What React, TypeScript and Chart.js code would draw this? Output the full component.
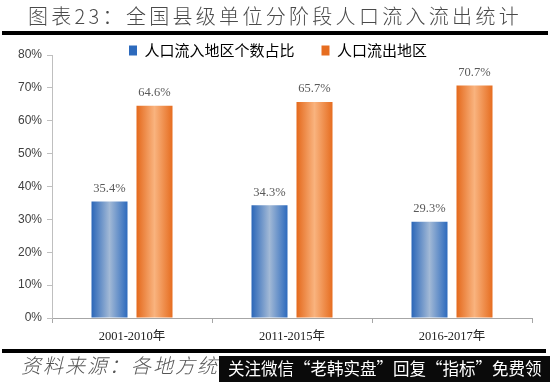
import React, { useEffect, useRef } from 'react';
import { Chart, registerables } from 'chart.js';

Chart.register(...registerables);

const categories = ['2001-2010年', '2011-2015年', '2016-2017年'];
const inflowShare = [35.4, 34.3, 29.3];
const outflowShare = [64.6, 65.7, 70.7];
const seriesNames = ['人口流入地区个数占比', '人口流出地区'];
const yMin = 0;
const yMax = 80;
const yStep = 10;
const titleText = '图表23：全国县级单位分阶段人口流入流出统计';
const sourceText = '资料来源：各地方统';
const bannerText = '关注微信“老韩实盘”回复“指标”免费领';

const CAT_PCT = 0.5625;
const BAR_PCT = 0.8;

const blueStops: [number, string][] = [
  [0, '#2a66b8'],
  [0.5, '#a2b9d6'],
  [1, '#2d6abd'],
];
const orangeStops: [number, string][] = [
  [0, '#e4691c'],
  [0.5, '#f9b37e'],
  [1, '#e66d20'],
];

function barFill(stops: [number, string][], solid: string) {
  return (ctx: any) => {
    const chart = ctx.chart;
    const xs = chart.scales && chart.scales.x;
    if (ctx.type !== 'data' || !xs || !isFinite(xs.width) || xs.width <= 0) return solid;
    const n = chart.data.labels.length;
    const catW = xs.width / n;
    const slot = (catW * CAT_PCT) / 2;
    const center = xs.getPixelForValue(ctx.dataIndex) + (ctx.datasetIndex - 0.5) * slot;
    const half = (slot * BAR_PCT) / 2;
    if (!isFinite(center)) return solid;
    const g = chart.ctx.createLinearGradient(center - half, 0, center + half, 0);
    stops.forEach(([o, c]) => g.addColorStop(o, c));
    return g;
  };
}

const valueLabels = {
  id: 'valueLabels',
  afterDatasetsDraw(chart: any) {
    const c = chart.ctx;
    c.save();
    c.font = '12.5px "Liberation Serif", serif';
    c.fillStyle = '#595959';
    c.textAlign = 'center';
    c.textBaseline = 'middle';
    chart.data.datasets.forEach((ds: any, di: number) => {
      chart.getDatasetMeta(di).data.forEach((el: any, i: number) => {
        c.fillText(ds.data[i].toFixed(1) + '%', el.x, el.y - 13);
      });
    });
    c.restore();
  },
};

// let the legend text overhang its layout box (so it sits close to the plot top without clipping)
const legendNudge = {
  id: 'legendNudge',
  afterLayout(chart: any) {
    const lg = chart.legend;
    if (!lg) return;
    lg.bottom += 12;
    lg.height += 12;
    lg.left += 12;
    lg.right += 12;
  },
};

export default function App() {
  const ref = useRef<HTMLCanvasElement | null>(null);

  useEffect(() => {
    if (!ref.current) return;
    const chart = new Chart(ref.current, {
      type: 'bar',
      data: {
        labels: categories,
        datasets: [
          {
            label: seriesNames[0],
            data: inflowShare,
            backgroundColor: barFill(blueStops, '#4f82c4') as any,
            borderWidth: 0,
            categoryPercentage: CAT_PCT,
            barPercentage: BAR_PCT,
          },
          {
            label: seriesNames[1],
            data: outflowShare,
            backgroundColor: barFill(orangeStops, '#ee8a45') as any,
            borderWidth: 0,
            categoryPercentage: CAT_PCT,
            barPercentage: BAR_PCT,
          },
        ],
      },
      options: {
        responsive: false,
        animation: false,
        devicePixelRatio: 1,
        layout: { padding: { top: 16, left: 0, right: 18, bottom: 0 } },
        plugins: {
          legend: {
            position: 'top',
            maxHeight: 39,
            labels: {
              boxWidth: 8,
              boxHeight: 10,
              padding: 27,
              color: '#000',
              font: { family: '"Noto Sans CJK SC", sans-serif', size: 15, weight: 'normal' },
            },
          } as any,
          tooltip: { enabled: false },
          title: { display: false },
        },
        scales: {
          x: {
            grid: { display: true, drawOnChartArea: false, tickLength: 5, color: '#a6a6a6', offset: true },
            border: { color: '#a6a6a6' },
            ticks: {
              padding: 6,
              color: '#222',
              font: { family: '"Liberation Serif", "Noto Sans CJK SC", serif', size: 12.5 },
            },
            afterFit: (s: any) => {
              s.height = 64;
            },
          },
          y: {
            min: yMin,
            max: yMax,
            ticks: {
              stepSize: yStep,
              callback: (v: any) => v + '%',
              padding: 5,
              color: '#404040',
              font: { family: '"Liberation Sans", sans-serif', size: 12 },
            },
            grid: { drawOnChartArea: false, tickLength: 5, color: '#bfbfbf' },
            border: { color: '#bfbfbf' },
            afterFit: (s: any) => {
              s.width = 52;
            },
          },
        },
      },
      plugins: [valueLabels, legendNudge],
    });
    return () => chart.destroy();
  }, []);

  return (
    <div
      style={{
        position: 'fixed',
        left: 0,
        top: 0,
        width: 550,
        height: 382,
        background: '#fff',
        overflow: 'hidden',
      }}
    >
      <canvas ref={ref} width={550} height={382} style={{ position: 'absolute', left: 0, top: 0 }} />
      <div
        style={{
          position: 'absolute',
          left: 28,
          top: 3,
          fontFamily: '"Noto Sans CJK SC", sans-serif',
          fontSize: 20,
          fontWeight: 300,
          lineHeight: '26px',
          letterSpacing: '3.3px',
          color: '#4a4a4a',
          whiteSpace: 'nowrap',
        }}
      >
        {titleText}
      </div>
      <div style={{ position: 'absolute', left: 2, top: 31, width: 546, height: 4, background: '#000' }} />
      <div style={{ position: 'absolute', left: 2, top: 349, width: 544, height: 4, background: '#000' }} />
      <div
        style={{
          position: 'absolute',
          left: 21,
          top: 352,
          fontFamily: '"Noto Sans CJK SC", sans-serif',
          fontSize: 20,
          fontWeight: 300,
          lineHeight: '26px',
          letterSpacing: '2px',
          fontStyle: 'italic',
          color: '#555',
          whiteSpace: 'nowrap',
        }}
      >
        {sourceText}
      </div>
      <div
        style={{
          position: 'absolute',
          left: 219,
          top: 356,
          width: 331,
          height: 26,
          background: '#0a0a0a',
          color: '#fff',
          fontFamily: '"Noto Sans CJK SC", sans-serif',
          fontSize: 16.5,
          lineHeight: '24px',
          paddingLeft: 9,
          boxSizing: 'border-box',
          whiteSpace: 'nowrap',
        }}
      >
        {bannerText}
      </div>
    </div>
  );
}
